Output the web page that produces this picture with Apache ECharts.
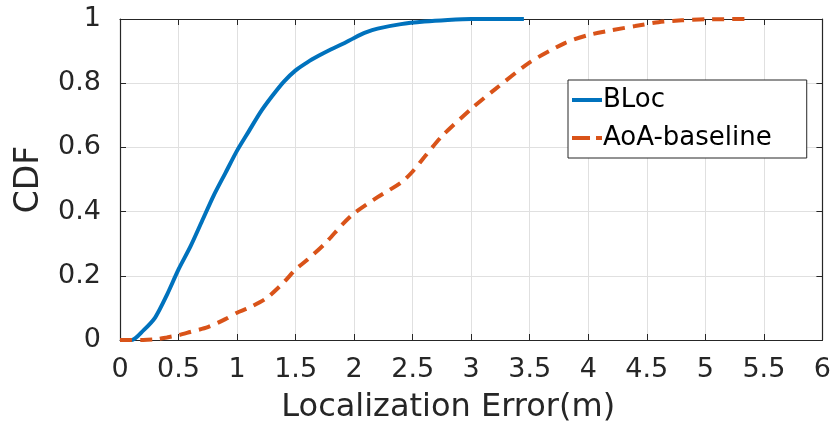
<!DOCTYPE html>
<html>
<head>
<meta charset="utf-8">
<script src="https://cdn.jsdelivr.net/npm/echarts@6/dist/echarts.min.js"></script>
<style>
  html, body { margin: 0; padding: 0; background: #fff; }
  #cdf { width: 834px; height: 434px; }
</style>
</head>
<body>
<div id="cdf"></div>
<script>
// error values (m) and CDF
const blocX = [0, 0.1, 0.2, 0.3, 0.4, 0.5, 0.6, 0.7, 0.8, 0.9, 1.0, 1.1, 1.2, 1.3, 1.4, 1.5, 1.6, 1.7, 1.8, 1.9, 2.0, 2.1, 2.2, 2.4, 2.6, 2.8, 3.0, 3.45];
const blocY = [0, 0.0, 0.03, 0.07, 0.14, 0.22, 0.29, 0.37, 0.45, 0.52, 0.59, 0.65, 0.71, 0.76, 0.805, 0.84, 0.865, 0.886, 0.905, 0.922, 0.941, 0.958, 0.97, 0.984, 0.992, 0.997, 1.0, 1.0];

const aoaX = [0, 0.1, 0.2, 0.3, 0.4, 0.5, 0.6, 0.75, 0.9, 1.0, 1.1, 1.25, 1.4, 1.5, 1.6, 1.75, 1.9, 2.0, 2.2, 2.4, 2.5, 2.6, 2.75, 3.0, 3.2, 3.5, 3.8, 4.0, 4.2, 4.4, 4.6, 4.8, 5.0, 5.4];
const aoaY = [0, 0, 0, 0.002, 0.008, 0.015, 0.025, 0.04, 0.065, 0.085, 0.1, 0.13, 0.18, 0.22, 0.25, 0.30, 0.36, 0.395, 0.445, 0.49, 0.525, 0.57, 0.635, 0.72, 0.78, 0.865, 0.925, 0.95, 0.965, 0.978, 0.99, 0.996, 0.999, 1.0];

const seriesNames = ['BLoc', 'AoA-baseline'];
const colors = ['#0072BD', '#D95319'];

const toPairs = (xs, ys) => xs.map((x, i) => [x, ys[i]]);

const txt = '#262626';
const fontFam = "'DejaVu Sans', sans-serif";

const chart = echarts.init(document.getElementById('cdf'));

const axisBase = {
  type: 'value',
  axisLine: { show: true, onZero: false, lineStyle: { color: txt, width: 1.2 } },
  axisTick: { show: true, inside: true, length: 6, lineStyle: { color: txt } },
  splitLine: { show: true, lineStyle: { color: '#e0e0e0', width: 1 } }
};

const option = {
  animation: false,
  grid: { left: 120, right: 11, top: 19, bottom: 94, containLabel: false },
  legend: {
    orient: 'vertical',
    left: 568,
    top: 80,
    padding: [5, 35, 5, 4],
    itemGap: 8,
    itemWidth: 30,
    itemHeight: 4,
    backgroundColor: '#fff',
    borderColor: txt,
    borderWidth: 1,
    textStyle: { fontSize: 26, lineHeight: 30, color: '#000', fontFamily: fontFam, padding: [0, 0, 0, -4] },
    data: [
      { name: seriesNames[0], icon: 'path://M0,0H30V4H0Z', itemStyle: { color: colors[0] } },
      { name: seriesNames[1], icon: 'path://M0,0H18V4H0Z M24,0H30V4H24Z', itemStyle: { color: colors[1] } }
    ]
  },
  xAxis: [
    Object.assign({}, axisBase, {
      min: 0, max: 6, interval: 0.5,
      name: 'Localization Error(m)',
      nameLocation: 'middle',
      nameGap: 52,
      nameTextStyle: { fontSize: 32, color: txt, fontFamily: fontFam, padding: [0, 46, 0, 0] },
      axisLabel: { fontSize: 27, color: txt, fontFamily: fontFam, margin: 16 }
    }),
    Object.assign({}, axisBase, {
      position: 'top', min: 0, max: 6, interval: 0.5,
      axisLabel: { show: false }, splitLine: { show: false }
    })
  ],
  yAxis: [
    Object.assign({}, axisBase, {
      min: 0, max: 1, interval: 0.2,
      name: 'CDF',
      nameLocation: 'middle',
      nameGap: 74,
      nameTextStyle: { fontSize: 33, color: txt, fontFamily: fontFam },
      axisLabel: { fontSize: 27, color: txt, fontFamily: fontFam, margin: 19 }
    }),
    Object.assign({}, axisBase, {
      position: 'right', min: 0, max: 1, interval: 0.2,
      axisLabel: { show: false }, splitLine: { show: false }
    })
  ],
  series: [
    {
      name: seriesNames[0],
      type: 'line',
      showSymbol: false,
      symbol: 'none',
      smooth: 0.25,
      lineStyle: { color: colors[0], width: 4 },
      itemStyle: { color: colors[0] },
      data: toPairs(blocX, blocY)
    },
    {
      name: seriesNames[1],
      type: 'line',
      showSymbol: false,
      symbol: 'none',
      smooth: 0.25,
      lineStyle: { color: colors[1], width: 4, type: [12, 8] },
      itemStyle: { color: colors[1] },
      data: toPairs(aoaX, aoaY)
    }
  ]
};

chart.setOption(option);
</script>
</body>
</html>
